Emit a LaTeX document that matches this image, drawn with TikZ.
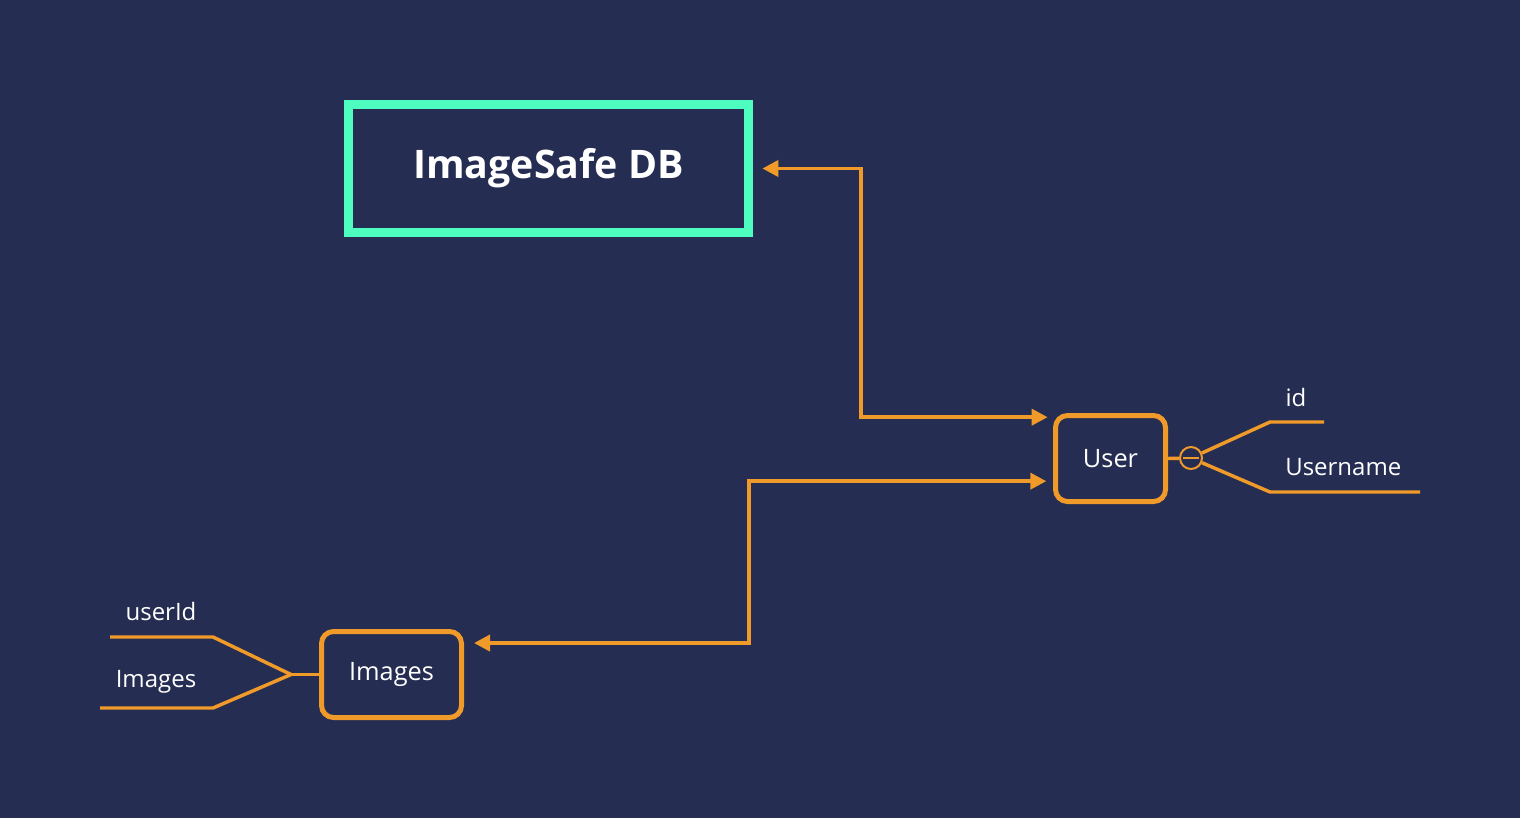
\documentclass[tikz,border=0pt]{standalone}
\usepackage{fontspec}
\setmainfont{Open Sans}
\usepackage{tikz}
\usetikzlibrary{arrows.meta, positioning}
\usepackage{xcolor}
\definecolor{bgnavy}{RGB}{37,45,82}
\definecolor{linkorange}{RGB}{240,154,42}
\definecolor{dbteal}{RGB}{78,253,192}

\tikzset{
    dbbox/.style={draw=dbteal, line width=6.75pt, minimum width=300pt, minimum height=96pt, text=white, font=\fontsize{29.5}{34}\selectfont\bfseries},
    entitybox/.style={draw=linkorange, line width=3.75pt, rounded corners=9pt, minimum height=64.5pt, text=white, font=\fontsize{19}{23}\selectfont},
    link/.style={draw=linkorange, line width=2.8pt, {Triangle[length=12pt,width=12pt]}-{Triangle[length=12pt,width=12pt]}},
    attr/.style={draw=linkorange, line width=2.6pt},
    attrring/.style={circle, draw=linkorange, line width=1.5pt, minimum size=16.5pt, inner sep=0pt},
    attrlabel/.style={text=white, inner sep=0.75pt, font=\fontsize{18}{22}\selectfont}
}

\begin{document}
\begin{tikzpicture}[x=0.75pt,y=0.75pt,yscale=-1,xscale=1]
        % background
        \fill[bgnavy] (0,0) rectangle (1520,818);
        % database
        \node[dbbox] (db) at (548.5,168.5) {ImageSafe DB};
        % entities
        \node[entitybox, minimum width=82.5pt] (user) at (1110.5,458.5) {User};
        \node[entitybox, minimum width=105pt] (images) at (391.5,674.5) {Images};
        % arrow ends
        \coordinate (dbin) at ([xshift=7pt]db.east);
        \coordinate (userin1) at ([xshift=-4pt,yshift=-31pt]user.west);
        \coordinate (userin2) at ([xshift=-5pt,yshift=17pt]user.west);
        \coordinate (imagesin) at ([xshift=7.5pt,yshift=-23.6pt]images.east);
        % links
        \draw[link] (dbin) -- ++(99,0) |- (userin1);
        \draw[link] (imagesin) -- ++(275,0) |- (userin2);
        % user attributes
        \node[attrring] (ring) at (1191,458) {};
        \draw[line width=1.2pt, linkorange] ([xshift=-6pt]ring.center) -- ([xshift=6pt]ring.center);
        \draw[attr] (user.east) -- (ring);
        \draw[attr] (ring) -- (1270,422) -- (1324,422);
        \draw[attr] (ring) -- (1270,492) -- (1420,492);
        \node[attrlabel] (idlabel) at (1296,397) {id};
        \node[attrlabel, anchor=west] (usernamelabel) at (1284,467) {Username};
        % images attributes
        \coordinate (fork) at (291,674.5);
        \draw[attr] (images.west) -- (fork);
        \draw[attr] (fork) -- (213,637) -- (110,637);
        \draw[attr] (fork) -- (213,708) -- (100,708);
        \node[attrlabel] (useridlabel) at (161,611) {userId};
        \node[attrlabel] (imageslabel) at (156,682) {Images};
\end{tikzpicture}
\end{document}
